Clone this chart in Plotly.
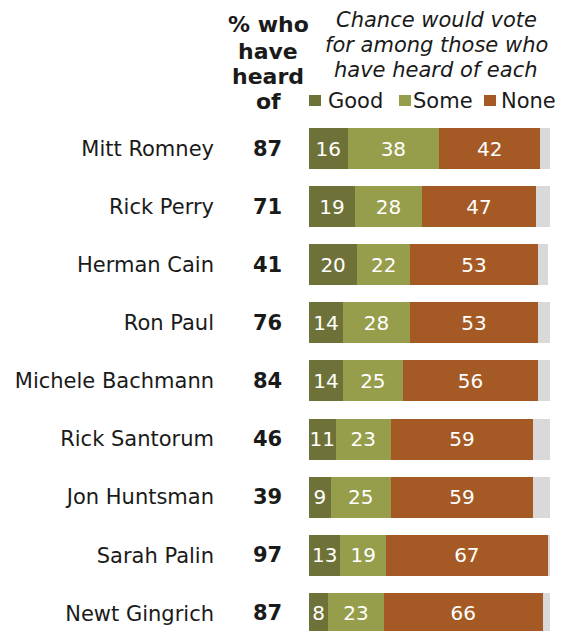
import plotly.graph_objects as go

names = ["Mitt Romney", "Rick Perry", "Herman Cain", "Ron Paul", "Michele Bachmann",
         "Rick Santorum", "Jon Huntsman", "Sarah Palin", "Newt Gingrich"]
heard = [87, 71, 41, 76, 84, 46, 39, 97, 87]
good = [16, 19, 20, 14, 14, 11, 9, 13, 8]
some = [38, 28, 22, 28, 25, 23, 25, 19, 23]
none_ = [42, 47, 53, 53, 56, 59, 59, 67, 66]
dk = [4, 6, 4, 5, 5, 7, 7, 1, 3]

header_left = ["% who", "have", "heard", "of"]
header_right = ["Chance would vote", "for among those who", "have heard of each"]
legend_labels = ["Good", "Some", "None"]

C_GOOD = "#6F7238"
C_SOME = "#969E4C"
C_NONE = "#A55A26"
C_DK = "#D9D9D9"
FONT = "DejaVu Sans"
TXT = "#1a1a1a"

# the page body has an 8px margin; positions below are in window pixels
OFF = 8
W, H = 566 - OFF, 631 - OFF
L, R, T, B = 309 - OFF, 16, 120 - OFF, 0
PW, PH = W - L - R, H - T - B


def px_x(p):
    return (p - OFF - L) / PW


def px_y(p):
    return (H - B - (p - OFF)) / PH


fig = go.Figure()
for label, vals, color in [("Good", good, C_GOOD), ("Some", some, C_SOME), ("None", none_, C_NONE)]:
    fig.add_trace(go.Bar(
        y=names, x=vals, orientation="h", name=label,
        marker=dict(color=color, line=dict(width=0)),
        text=vals, textposition="inside", insidetextanchor="middle", textangle=0,
        textfont=dict(color="white", size=20, family=FONT),
        showlegend=False, hoverinfo="skip",
    ))
fig.add_trace(go.Bar(
    y=names, x=dk, orientation="h", name="DK",
    marker=dict(color=C_DK, line=dict(width=0)),
    showlegend=False, hoverinfo="skip",
))

band = 58.1
top_val = -28.5 / band
bot_val = top_val + PH / band

annotations = []
for n, h in zip(names, heard):
    annotations.append(dict(x=px_x(267), xref="paper", y=n, yref="y", text=f"<b>{h}</b>",
                            showarrow=False, xanchor="center", yanchor="middle",
                            font=dict(size=21, color=TXT, family=FONT)))

for txt, base in zip(header_left, [32, 58, 83, 109]):
    annotations.append(dict(x=px_x(268), xref="paper", y=px_y(base - 7), yref="paper",
                            text=f"<b>{txt}</b>", showarrow=False, xanchor="center", yanchor="middle",
                            font=dict(size=22, color=TXT, family=FONT)))

for txt, base in zip(header_right, [27, 52, 77]):
    annotations.append(dict(x=px_x(436), xref="paper", y=px_y(base - 7), yref="paper",
                            text=f"<i>{txt}</i>", showarrow=False, xanchor="center", yanchor="middle",
                            font=dict(size=21, color=TXT, family=FONT)))

shapes = []
for txt, color, sq_x, tx in zip(legend_labels, [C_GOOD, C_SOME, C_NONE], [309, 399, 484], [326, 411, 499]):
    shapes.append(dict(type="rect", xref="paper", yref="paper",
                       x0=px_x(sq_x), x1=px_x(sq_x + 12), y0=px_y(106), y1=px_y(95),
                       fillcolor=color, line=dict(width=0), layer="above"))
    annotations.append(dict(x=px_x(tx), xref="paper", y=px_y(101), yref="paper",
                            text=txt, showarrow=False, xanchor="left", yanchor="middle",
                            font=dict(size=21, color=TXT, family=FONT)))

fig.update_layout(
    width=W, height=H,
    margin=dict(l=L, r=R, t=T, b=B, pad=0, autoexpand=False),
    barmode="stack", bargap=1 - 41 / band,
    plot_bgcolor="white", paper_bgcolor="white",
    font=dict(family=FONT, color=TXT),
    xaxis=dict(range=[0, 100], visible=False, fixedrange=True, automargin=False),
    yaxis=dict(type="category", categoryorder="array", categoryarray=names,
               range=[bot_val, top_val], showgrid=False, zeroline=False, showline=False,
               ticks="", ticklabelstandoff=94, tickfont=dict(size=21, color=TXT, family=FONT),
               fixedrange=True, automargin=False),
    annotations=annotations, shapes=shapes,
    uniformtext=dict(minsize=20, mode="show"),
    showlegend=False,
)

fig.write_html("out.html")
